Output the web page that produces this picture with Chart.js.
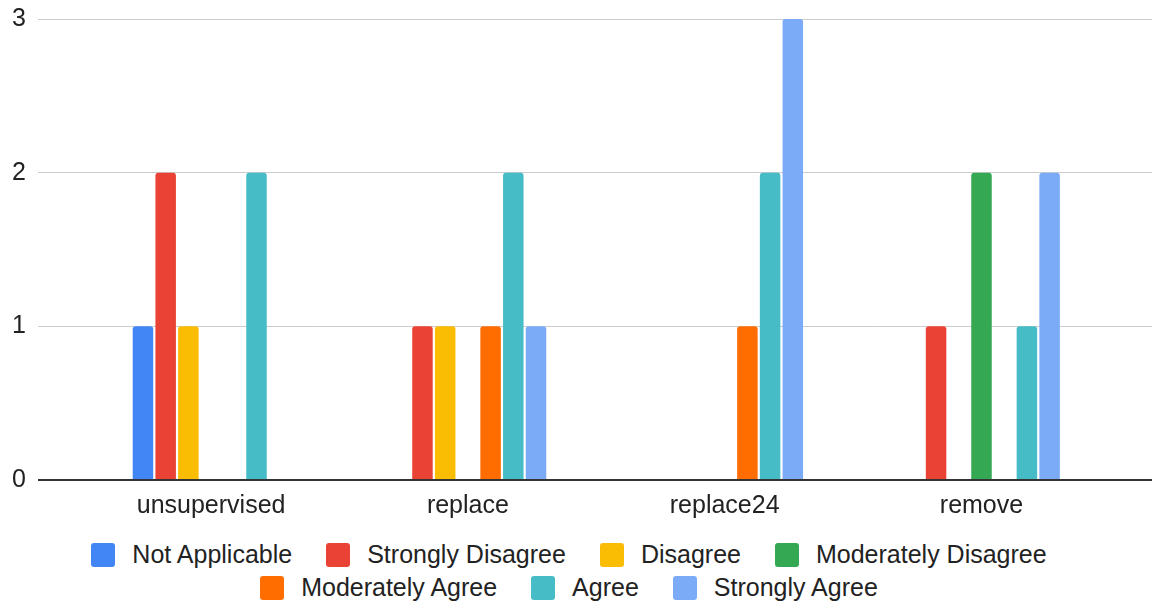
<!DOCTYPE html>
<html lang="en">

<head>
  <meta charset="UTF-8">
  <title>Responses by method</title>
  <script src="https://cdn.jsdelivr.net/npm/chart.js@4.4.0/dist/chart.umd.min.js"></script>
  <style>
    body { margin: 0; background: #fff; font-family: 'Liberation Sans', Arial, sans-serif; }
    #wrap { position: relative; width: 1152px; height: 605px; }
    #chart { position: absolute; left: 0; top: 0; }
    #legend {
      position: absolute; left: 69px; top: 538px; width: 1000px;
      display: flex; flex-wrap: wrap; justify-content: center; column-gap: 34px;
    }
    .item { display: flex; align-items: center; height: 33px; font-size: 25px; color: #222; }
    .box { width: 24px; height: 24px; border-radius: 3px; margin-right: 17px; }
  </style>
</head>

<body>
  <div id="wrap">
    <canvas id="chart" width="1152" height="530"></canvas>
    <div id="legend"></div>
  </div>
  <script>
    const categories = ['unsupervised', 'replace', 'replace24', 'remove'];
    const notApplicable = [1, 0, 0, 0];
    const stronglyDisagree = [2, 1, 0, 1];
    const disagree = [1, 1, 0, 0];
    const moderatelyDisagree = [0, 0, 0, 2];
    const moderatelyAgree = [0, 1, 1, 0];
    const agree = [2, 2, 2, 1];
    const stronglyAgree = [0, 1, 3, 2];
    const yTicks = [0, 1, 2, 3];

    // each category sits at an integer x so the plot can keep its side margins
    const toPoints = (vals) => vals.map((v, i) => ({ x: i, y: v }));

    const series = [
      ['Not Applicable', notApplicable, '#4285F4'],
      ['Strongly Disagree', stronglyDisagree, '#EA4335'],
      ['Disagree', disagree, '#FBBC04'],
      ['Moderately Disagree', moderatelyDisagree, '#34A853'],
      ['Moderately Agree', moderatelyAgree, '#FF6D01'],
      ['Agree', agree, '#46BDC6'],
      ['Strongly Agree', stronglyAgree, '#7BAAF7']
    ];

    const tickFont = { family: "'Liberation Sans', Arial, sans-serif", size: 25 };

    const myChart = new Chart(document.getElementById('chart'), {
      type: 'bar',
      data: {
        datasets: series.map(([label, vals, color]) => ({
          label: label,
          data: toPoints(vals),
          backgroundColor: color,
          borderRadius: 3,
          categoryPercentage: 0.619,
          barPercentage: 0.903
        }))
      },
      options: {
        responsive: false,
        animation: false,
        layout: { padding: { left: 12, top: 0, right: 0, bottom: 0 } },
        plugins: {
          legend: { display: false },
          tooltip: { enabled: false }
        },
        scales: {
          x: {
            type: 'linear',
            offset: false,
            min: -0.674,
            max: 3.664,
            grid: { display: false },
            border: { display: false },
            afterBuildTicks: (scale) => {
              scale.ticks = categories.map((c, i) => ({ value: i }));
            },
            afterFit: (scale) => { scale.height = 50; },
            ticks: {
              autoSkip: false,
              maxRotation: 0,
              padding: 3,
              color: '#222',
              font: tickFont,
              callback: (v) => categories[v]
            }
          },
          y: {
            min: yTicks[0],
            max: yTicks[yTicks.length - 1],
            afterBuildTicks: (scale) => {
              scale.ticks = yTicks.map((v) => ({ value: v }));
            },
            afterFit: (scale) => {
              scale.width = 26;
              scale.paddingTop = 19;
            },
            border: { display: false },
            grid: {
              drawTicks: false,
              color: (ctx) => ctx.tick.value === 0 ? '#333' : '#ccc',
              lineWidth: (ctx) => ctx.tick.value === 0 ? 2 : 1
            },
            ticks: {
              crossAlign: 'far',
              padding: 12,
              color: '#222',
              font: tickFont
            }
          }
        }
      }
    });

    // legend as html so the row spacing can match
    const legendEl = document.getElementById('legend');
    myChart.data.datasets.forEach((ds) => {
      const item = document.createElement('div');
      item.className = 'item';
      const box = document.createElement('span');
      box.className = 'box';
      box.style.background = ds.backgroundColor;
      item.appendChild(box);
      item.appendChild(document.createTextNode(ds.label));
      legendEl.appendChild(item);
    });
  </script>
</body>

</html>
